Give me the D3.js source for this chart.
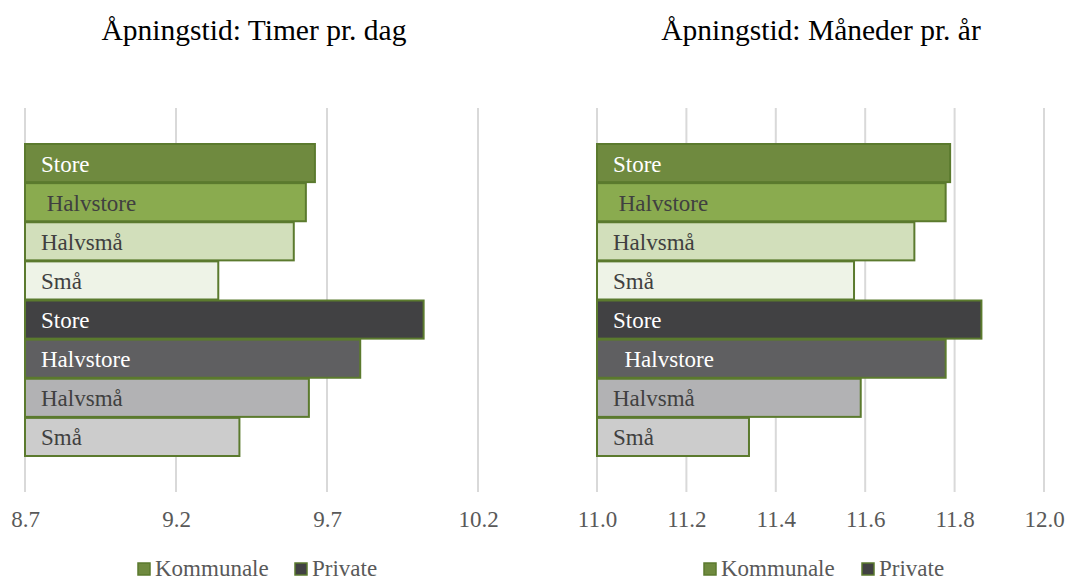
<!DOCTYPE html>
<html>
<head>
<meta charset="utf-8">
<script src="https://cdn.jsdelivr.net/npm/d3@7"></script>
<style>
body { margin: 0; background: #fff; }
svg text { font-family: "Liberation Serif", "Times New Roman", Tinos, "DejaVu Serif", serif; }
</style>
</head>
<body>
<div id="chart"></div>
<script>
// bar order top to bottom
var groups = ["Kommunale", "Kommunale", "Kommunale", "Kommunale", "Private", "Private", "Private", "Private"];
var labelsLeft = ["Store", " Halvstore", "Halvsmå", "Små", "Store", "Halvstore", "Halvsmå", "Små"];
var labelsRight = ["Store", " Halvstore", "Halvsmå", "Små", "Store", "  Halvstore", "Halvsmå", "Små"];
var timerPrDag = [9.66, 9.63, 9.59, 9.34, 10.02, 9.81, 9.64, 9.41];
var manederPrAar = [11.79, 11.78, 11.71, 11.575, 11.86, 11.78, 11.59, 11.34];
var ticksLeft = [8.7, 9.2, 9.7, 10.2];
var ticksRight = [11.0, 11.2, 11.4, 11.6, 11.8, 12.0];
var legendNames = ["Kommunale", "Private"];

var fills = ["#6f8a3f", "#8aab4f", "#d2dfbb", "#eef3e7", "#414143", "#5f5f61", "#b2b2b4", "#cccccc"];
var textCol = ["#ffffff", "#404040", "#404040", "#404040", "#ffffff", "#ffffff", "#404040", "#404040"];
var legendFill = {"Kommunale": "#6f8a3f", "Private": "#414143"};
var edge = "#5b7a2e";
var serif = '"Liberation Serif", "Times New Roman", Tinos, "DejaVu Serif", serif';

var svg = d3.select("#chart").append("svg")
	.attr("width", 1068)
	.attr("height", 580);

function drawPanel(opts) {
	var g = svg.append("g");

	var x = d3.scaleLinear()
		.domain(opts.domain)
		.range([opts.x0, opts.x1]);

	var y = d3.scaleBand()
		.domain(d3.range(opts.values.length))
		.range([143, 456])
		.padding(0);

	// title
	g.append("text")
		.attr("x", opts.titleX)
		.attr("y", 40)
		.attr("text-anchor", "middle")
		.attr("font-family", serif)
		.attr("font-size", 29.5)
		.attr("fill", "#000")
		.text(opts.title);

	// gridlines
	g.selectAll(".grid")
		.data(opts.ticks)
		.enter().append("line")
		.attr("x1", d => x(d)).attr("x2", d => x(d))
		.attr("y1", 108).attr("y2", 492)
		.attr("stroke", "#d9d9d9")
		.attr("stroke-width", 2);

	// bars
	g.selectAll(".bar")
		.data(opts.values)
		.enter().append("rect")
		.attr("x", x(opts.domain[0]))
		.attr("y", (d, i) => y(i) + 1)
		.attr("width", d => x(d) - x(opts.domain[0]))
		.attr("height", y.bandwidth() - 1)
		.attr("fill", (d, i) => fills[i])
		.attr("stroke", edge)
		.attr("stroke-width", 2);

	// labels inside bars
	g.selectAll(".lbl")
		.data(opts.labels)
		.enter().append("text")
		.attr("x", x(opts.domain[0]) + 16)
		.attr("y", (d, i) => y(i) + y.bandwidth() / 2 + 9)
		.attr("font-family", serif)
		.attr("font-size", 23)
		.attr("fill", (d, i) => textCol[i])
		.style("white-space", "pre")
		.text(d => d);

	// tick labels
	var axis = d3.axisBottom(x)
		.tickValues(opts.ticks)
		.tickFormat(d3.format(".1f"))
		.tickSize(0);
	var ax = g.append("g")
		.attr("transform", "translate(0,509)")
		.call(axis);
	ax.attr("font-family", null);
	ax.select(".domain").remove();
	ax.selectAll("text")
		.attr("dy", null)
		.attr("y", 18)
		.attr("font-family", serif)
		.attr("font-size", 23)
		.attr("fill", "#595959");

	// legend
	var lg = g.append("g").attr("transform", `translate(${opts.legendX},576)`);
	var offs = [0, opts.legendGap];
	legendNames.forEach((n, i) => {
		lg.append("rect")
			.attr("x", offs[i]).attr("y", -13)
			.attr("width", 12).attr("height", 12)
			.attr("fill", legendFill[n])
			.attr("stroke", edge)
			.attr("stroke-width", 1.5);
		lg.append("text")
			.attr("x", offs[i] + 17).attr("y", 0)
			.attr("font-family", serif)
			.attr("font-size", 23)
			.attr("fill", "#595959")
			.text(n);
	});
}

drawPanel({
	title: "Åpningstid: Timer pr. dag",
	titleX: 254,
	values: timerPrDag,
	labels: labelsLeft,
	domain: [8.7, 10.2],
	ticks: ticksLeft,
	x0: 25, x1: 478,
	legendX: 138, legendGap: 157
});

drawPanel({
	title: "Åpningstid: Måneder pr. år",
	titleX: 821,
	values: manederPrAar,
	labels: labelsRight,
	domain: [11.0, 12.0],
	ticks: ticksRight,
	x0: 597, x1: 1044,
	legendX: 704, legendGap: 158
});
</script>
</body>
</html>
